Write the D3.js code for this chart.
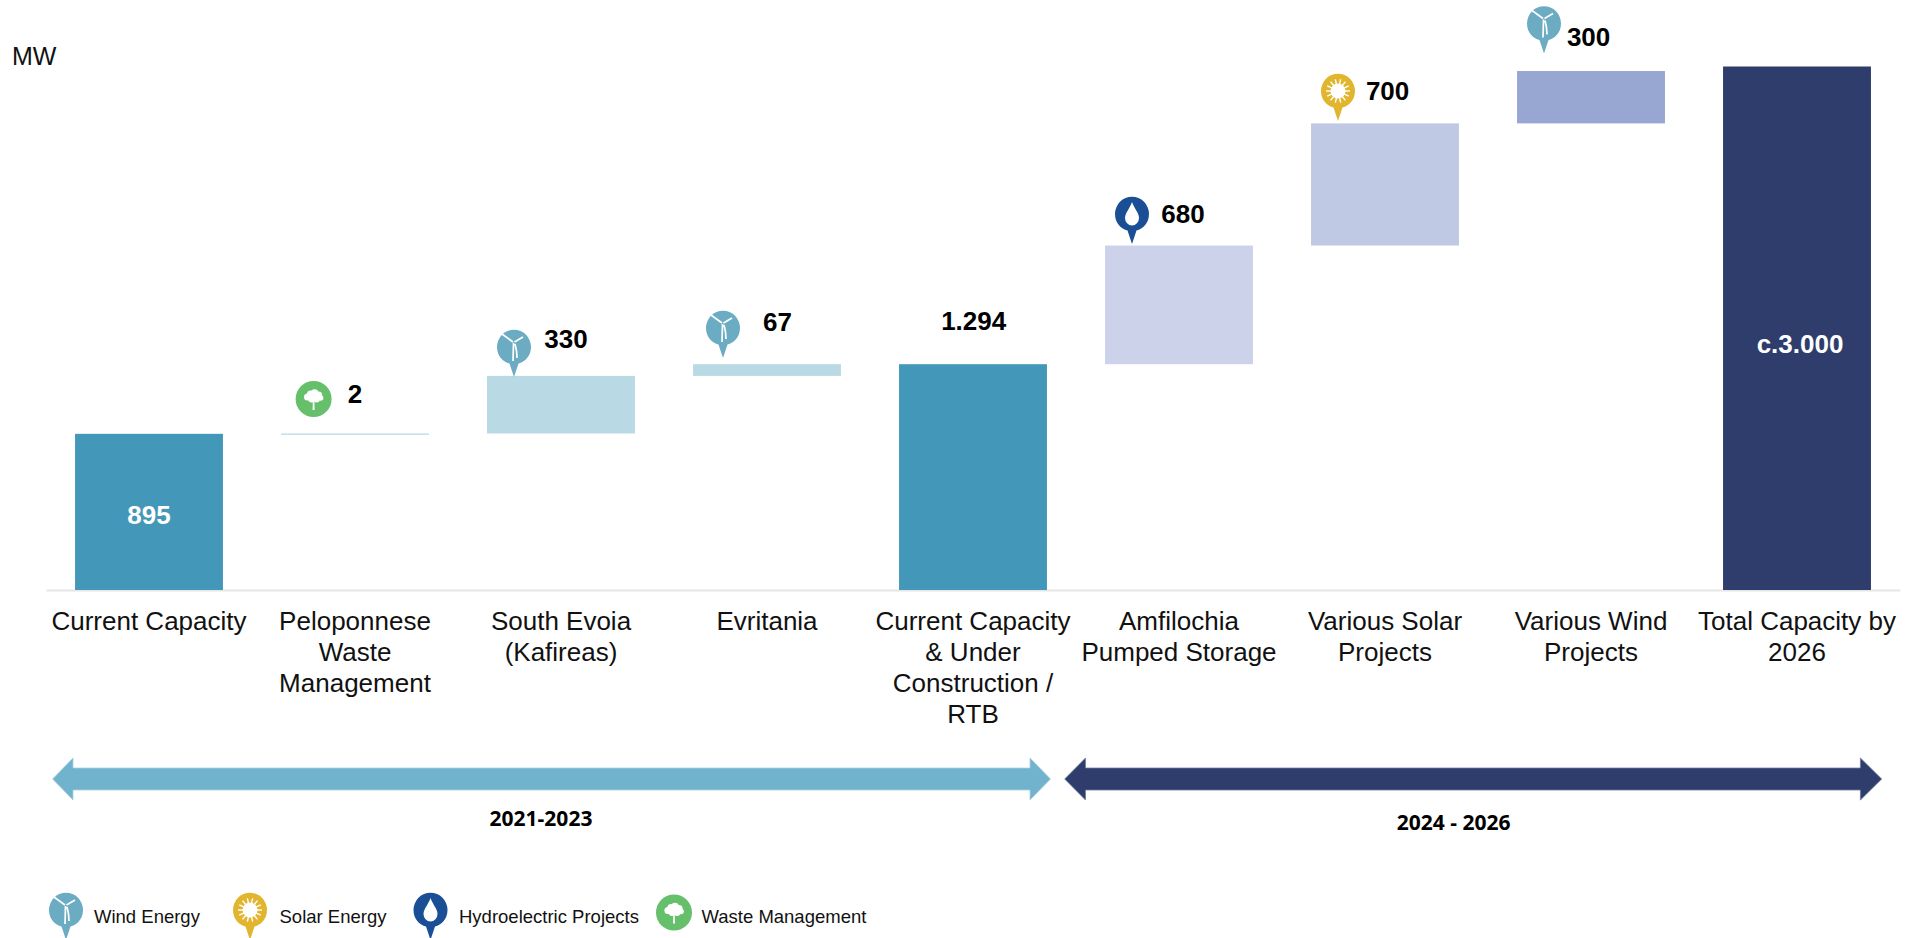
<!DOCTYPE html>
<html>
<head>
<meta charset="utf-8">
<title>Capacity build-up to 2026</title>
<script src="https://cdn.jsdelivr.net/npm/d3@7"></script>
<style>
  html, body { margin: 0; padding: 0; background: #fff; }
  svg { display: block; }
  text { font-family: "Liberation Sans", Arial, sans-serif; }
</style>
</head>
<body>
<svg id="chart" width="1906" height="938"></svg>
<script>
// Waterfall steps, in MW
const categories = [
  ["Current Capacity"],
  ["Peloponnese", "Waste", "Management"],
  ["South Evoia", "(Kafireas)"],
  ["Evritania"],
  ["Current Capacity", "& Under", "Construction /", "RTB"],
  ["Amfilochia", "Pumped Storage"],
  ["Various Solar", "Projects"],
  ["Various Wind", "Projects"],
  ["Total Capacity by", "2026"]
];
const barStart = [0, 895, 897, 1227, 0, 1294, 1974, 2674, 0];
const barEnd = [895, 897, 1227, 1294, 1294, 1974, 2674, 2974, 3000];
const barLabels = ["895", "2", "330", "67", "1.294", "680", "700", "300", "c.3.000"];
const barColors = ["#4397B8", "#B9D9E5", "#B9D9E5", "#B9D9E5", "#4397B8", "#CCD2EA", "#BFC9E3", "#98A6D2", "#2E3D6B"];
const barIcons = [null, "waste", "wind", "wind", null, "hydro", "solar", "wind", null];

const periods = ["2021-2023", "2024 - 2026"];
const legendNames = ["Wind Energy", "Solar Energy", "Hydroelectric Projects", "Waste Management"];
const legendKinds = ["wind", "solar", "hydro", "waste"];
const iconColors = { wind: "#6CACC3", solar: "#E2B52E", hydro: "#1A4F96", waste: "#66BF6B" };

const svg = d3.select("#chart");
const baseY = 590;

const x = d3.scaleBand()
  .domain(d3.range(categories.length))
  .range([46, 1900])
  .paddingInner(0.282)
  .paddingOuter(0.141);
const y = d3.scaleLinear().domain([0, 3100]).range([baseY, baseY - 3100 * 0.1745]);

// Baseline
svg.append("g")
  .attr("transform", `translate(0,${baseY})`)
  .call(d3.axisBottom(x).tickSize(0).tickFormat(""))
  .call(g => g.select(".domain").attr("stroke", "#E6E6E6").attr("stroke-width", 2));

// Bars; the 2 MW step stays visible as a hairline
svg.append("g").selectAll("rect")
  .data(barEnd)
  .join("rect")
  .attr("x", (d, i) => x(i))
  .attr("width", x.bandwidth())
  .attr("y", d => y(d))
  .attr("height", (d, i) => Math.max(1.3, y(barStart[i]) - y(d)))
  .attr("fill", (d, i) => barColors[i]);

// Category labels
const catGroup = svg.append("g").attr("font-size", 26).attr("fill", "#111").attr("text-anchor", "middle");
categories.forEach((lines, i) => {
  const t = catGroup.append("text").attr("y", 630);
  lines.forEach((line, j) => {
    t.append("tspan").attr("x", x(i) + x.bandwidth() / 2).attr("dy", j ? 31 : 0).text(line);
  });
});

// Icon drawing: a balloon marker with a white glyph, centred on the origin
function drawIcon(g, kind) {
  const c = iconColors[kind];
  if (kind === "waste") {
    g.append("circle").attr("r", 18).attr("fill", c);
    g.append("path").attr("d", "M-1,11 L-0.7,1 L0.7,1 L1,11 Z").attr("fill", "#fff");
    [[-6, -2, 3.6], [-3, -5, 3.6], [1, -6, 3.8], [5, -4, 3.6], [7, -1, 2.8], [-2, 0, 3.4], [3, 0, 3.4]].forEach(p => {
      g.append("circle").attr("cx", p[0]).attr("cy", p[1]).attr("r", p[2]).attr("fill", "#fff");
    });
    return;
  }
  g.append("path")
    .attr("d", "M-17,0 A17,17.2 0 1 1 17,0 C17,9 11,15 4.5,16.5 L0,30 L-4.5,16.5 C-11,15 -17,9 -17,0 Z")
    .attr("fill", c);
  if (kind === "wind") {
    g.append("path")
      .attr("d", "M-12,-13 L-1,-5 M0.5,-5 L9,-10 M-0.5,-4 L-1,14 M1,-3 C2.5,2 3,7 3,11")
      .attr("fill", "none").attr("stroke", "#fff").attr("stroke-width", 1.7);
  } else if (kind === "solar") {
    g.append("circle").attr("r", 7.5).attr("fill", "#fff");
    d3.range(14).forEach(k => {
      const a = k / 14 * 2 * Math.PI;
      g.append("line")
        .attr("x1", 7 * Math.cos(a)).attr("y1", 7 * Math.sin(a))
        .attr("x2", 12 * Math.cos(a)).attr("y2", 12 * Math.sin(a))
        .attr("stroke", "#fff").attr("stroke-width", 1.4);
    });
  } else {
    g.append("path")
      .attr("d", "M0,-12 C2,-6 7,-1 7,4 A7,7.5 0 0 1 -7,4 C-7,-1 -2,-6 0,-12 Z")
      .attr("fill", "#fff");
  }
}

// Offsets of each step's icon and value from the top of its bar
const iconPlace = { 1: [313.6, 399], 2: [514, 347], 3: [723, 328], 5: [1132, 214], 6: [1338, 91], 7: [1544, 23.5] };
Object.keys(iconPlace).forEach(i => {
  const g = svg.append("g").attr("transform", `translate(${iconPlace[i][0]},${iconPlace[i][1]})`);
  drawIcon(g, barIcons[i]);
});

// Value labels
const labelPlace = [[149, 515], [355, 394], [566, 339], [777.5, 322], [973.7, 321], [1183, 214], [1387.6, 90.7], [1588.6, 36.7], [1800, 344]];
svg.append("g").selectAll("text")
  .data(barLabels)
  .join("text")
  .attr("x", (d, i) => labelPlace[i][0])
  .attr("y", (d, i) => labelPlace[i][1])
  .attr("dy", "0.36em")
  .attr("text-anchor", "middle")
  .attr("font-size", 26)
  .attr("font-weight", 700)
  .attr("fill", (d, i) => (i === 0 || i === 8) ? "#fff" : "#000")
  .text(d => d);

// Unit
svg.append("text").attr("x", 12).attr("y", 65).attr("font-size", 25).attr("fill", "#111").text("MW");

// Period arrows
function arrow(x0, x1, x2, x3, fill, edge) {
  svg.append("path")
    .attr("d", `M${x0},779 L${x1},758 L${x1},768 L${x2},768 L${x2},758 L${x3},779 L${x2},800 L${x2},790 L${x1},790 L${x1},800 Z`)
    .attr("fill", fill).attr("stroke", edge).attr("stroke-width", 0.8);
}
arrow(52.6, 73, 1030, 1050.5, "#71B3CD", "#A9D0E0");
arrow(1064.7, 1085.5, 1860.4, 1881.7, "#2E3D6B", "#6F7BA0");

const periodPlace = [[541, 818], [1453.6, 822]];
svg.append("g").selectAll("text")
  .data(periods)
  .join("text")
  .attr("x", (d, i) => periodPlace[i][0])
  .attr("y", (d, i) => periodPlace[i][1])
  .attr("dy", "0.36em")
  .attr("text-anchor", "middle")
  .attr("font-size", 21)
  .attr("font-weight", 700)
  .attr("fill", "#000")
  .style("font-family", '"Open Sans", sans-serif')
  .text(d => d);

// Legend
const legendIconX = [66, 250, 430.5, 674];
const legendTextX = [94, 279.5, 459, 701.5];
legendKinds.forEach((kind, i) => {
  const g = svg.append("g").attr("transform", `translate(${legendIconX[i]},${kind === "waste" ? 912.5 : 910})`);
  drawIcon(g, kind);
});
svg.append("g").selectAll("text")
  .data(legendNames)
  .join("text")
  .attr("x", (d, i) => legendTextX[i])
  .attr("y", 916)
  .attr("dy", "0.36em")
  .attr("font-size", 18.5)
  .attr("fill", "#111")
  .text(d => d);
</script>
</body>
</html>
